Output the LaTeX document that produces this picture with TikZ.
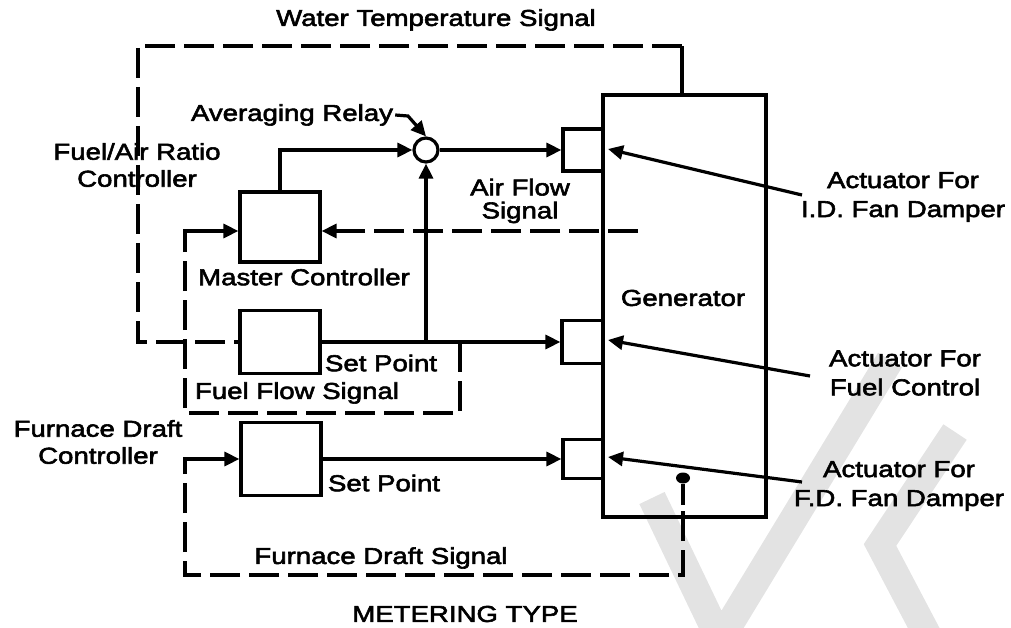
\documentclass[tikz,border=0pt]{standalone}
\usepackage{fontspec}
\setmainfont{Liberation Sans}[FakeStretch=1.2,FakeBold=2.5]
\usetikzlibrary{arrows.meta,calc,shapes.geometric}
\begin{document}
\begin{tikzpicture}[x=1pt,y=-1pt,
  txt/.style={font=\fontsize{23}{27}\selectfont, inner sep=0pt, align=center},
  box/.style={draw, line width=3.2pt, inner sep=0pt},
  ln/.style={line width=3.2pt},
  dsh/.style={dash pattern=on 30pt off 9pt},
  tip/.style={-{Triangle[length=15pt,width=14pt]}},
  wm/.style={line width=28pt, draw=black!11, line cap=butt}]
\useasboundingbox (0,0) rectangle (1011,628);

% faint watermark strokes
\coordinate (w1) at (652,498);
\coordinate (w2) at (720,640);
\coordinate (w3) at (890,360);
\coordinate (w4) at (955,432);
\coordinate (w5) at (880,545);
\coordinate (w6) at (930,640);
\draw[wm] (w1) -- (w2) -- (w3);
\draw[wm] (w4) -- (w5) -- (w6);

% boxes
\node[box, minimum width=163pt, minimum height=422pt] (gen) at (684.5,306) {};
\node[box, minimum width=80pt, minimum height=70pt] (master) at (280,227) {};
\node[box, minimum width=80pt, minimum height=63pt] (fuel) at (280,342) {};
\node[box, minimum width=80pt, minimum height=73pt] (fd) at (281,459) {};
\node[box, minimum width=40pt, minimum height=42pt] (idact) at (583,150) {};
\node[box, minimum width=41pt, minimum height=43pt] (fuelact) at (582.5,342) {};
\node[box, minimum width=40pt, minimum height=39pt] (fdact) at (583,459) {};
\node[draw, circle, line width=3.2pt, minimum size=24pt, inner sep=0pt, fill=white] (avg) at (426,150) {};
\node[fill, ellipse, minimum width=14pt, minimum height=11pt, inner sep=0pt] (dot) at (683,478) {};

% labels
\node[txt] (wts) at (436,20) {Water Temperature Signal};
\node[txt] (avgtxt) at (292,115) {Averaging Relay};
\node[txt] (farc) at (137,165) {Fuel/Air Ratio\\Controller};
\node[txt, font=\fontsize{23}{23}\selectfont] (afst) at (520,201) {Air Flow\\Signal};
\node[txt] (mct) at (304,277) {Master Controller};
\node[txt] (gent) at (683,298) {Generator};
\node[txt] (sp1) at (381,363) {Set Point};
\node[txt] (ffst) at (297,393) {Fuel Flow Signal};
\node[txt] (fdct) at (98,442) {Furnace Draft\\Controller};
\node[txt] (sp2) at (384,483) {Set Point};
\node[txt] (fdst) at (381,558) {Furnace Draft Signal};
\node[txt] (met) at (465,614) {METERING TYPE};
\node[txt, font=\fontsize{23}{29}\selectfont] (a1) at (903,197) {Actuator For\\I.D. Fan Damper};
\node[txt, font=\fontsize{23}{29}\selectfont] (a2) at (905,373) {Actuator For\\Fuel Control};
\node[txt, font=\fontsize{23}{29}\selectfont] (a3) at (899,486) {Actuator For\\F.D. Fan Damper};

% solid signal lines
\draw[ln,tip] (master.north) |- (avg.west);
\draw[ln,tip] (avg.east) -- (idact.west);
\draw[ln,tip] (fuel.east) -- (fuelact.west);
\coordinate (jn) at (avg.south |- fuel.east);
\draw[ln,tip] (jn) -- (avg.south);
\draw[ln,tip] (fd.east) -- (fdact.west);

% water temperature signal
\coordinate (wtc) at (682,46);
\coordinate (wtl) at (138,46);
\coordinate (wtb) at (138,342);
\draw[ln] (wtc |- gen.north) -- (wtc);
\draw[ln,dsh] (wtc) -- (wtl) -- (wtb) -- (fuel.west);

% air flow signal
\coordinate (afs) at (638,231);
\draw[ln,dsh,tip] (afs) -- (afs -| master.east);

% fuel flow signal
\coordinate (ffs) at (460,342);
\coordinate (ffa) at (460,413);
\coordinate (ffb) at (185,413);
\coordinate (ffc) at (185,231);
\coordinate (ffd) at (185,244);
\draw[ln,dsh] (ffs) -- (ffa) -- (ffb) -- (ffd);
\draw[ln,tip] (ffd) -- (ffc) -- (ffc -| master.west);

% furnace draft signal
\coordinate (fds) at (683,505);
\coordinate (fdt) at (683,511);
\coordinate (fda) at (683,575);
\coordinate (fdb) at (185,575);
\coordinate (fdc) at (185,459);
\coordinate (fdd) at (185,472);
\draw[ln] (dot) -- (fds);
\draw[ln,dsh] (fdt) -- (fda) -- (fdb) -- (fdd);
\draw[ln,tip] (fdd) -- (fdc) -- (fd.west);

% averaging relay leader
\coordinate (avl) at (408,116);
\draw[ln,tip] ($(avgtxt.east)+(2,0)$) -- (avl) -- (avg.north);

% actuator leaders
\coordinate (l1) at (802,195);
\coordinate (e1) at (608,149);
\coordinate (l2) at (810,376);
\coordinate (e2) at (608,340);
\coordinate (l3) at (802,482);
\coordinate (e3) at (608,457);
\draw[ln,tip] (l1) -- (e1);
\draw[ln,tip] (l2) -- (e2);
\draw[ln,tip] (l3) -- (e3);
\end{tikzpicture}
\end{document}
